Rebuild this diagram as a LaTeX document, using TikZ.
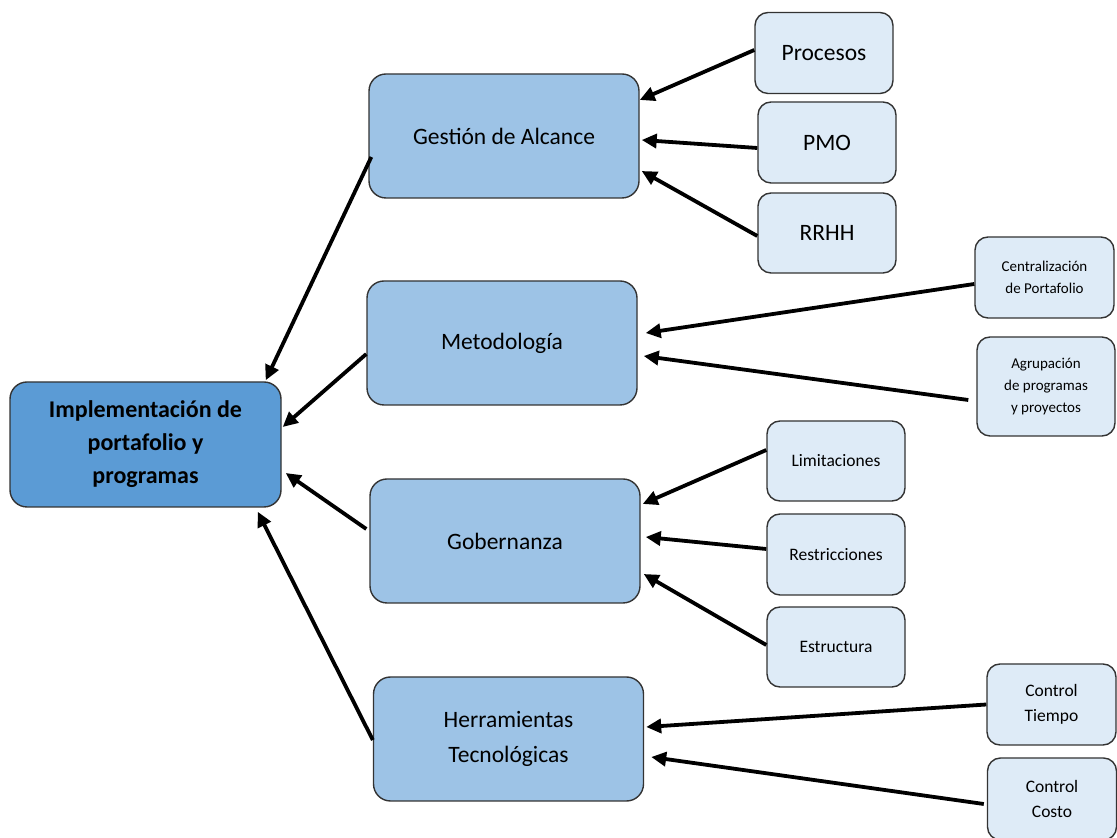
\documentclass[tikz,border=0pt]{standalone}
\usepackage{fontspec}
\setmainfont{Carlito}
\usetikzlibrary{arrows.meta}
\definecolor{rootblue}{HTML}{5B9BD5}
\definecolor{midblue}{HTML}{9DC3E6}
\definecolor{leafblue}{HTML}{DEEBF7}
\definecolor{edgegray}{HTML}{333333}
\begin{document}
\begin{tikzpicture}[x=1pt,y=1pt,
  box/.style={draw=edgegray,line width=1.4pt,rounded corners=17pt,align=center,
    inner sep=0pt,text=black},
  rootbox/.style={box,fill=rootblue,minimum width=271pt,minimum height=125pt,
    font=\fontsize{24}{33}\selectfont\bfseries},
  midbox/.style={box,fill=midblue,minimum width=270pt,minimum height=124pt,
    font=\fontsize{23.5}{35}\selectfont},
  leafbox/.style={box,fill=leafblue,rounded corners=13pt,minimum width=138pt,minimum height=81pt,
    font=\fontsize{23.5}{28}\selectfont},
  smallleaf/.style={leafbox,font=\fontsize{17.5}{25}\selectfont},
  tinyleaf/.style={leafbox,font=\fontsize{15}{22}\selectfont},
  link/.style={line width=3.8pt,-{Triangle[length=15pt,width=14pt]}}
]
\useasboundingbox (0,0) rectangle (1117,838);

% root and second-level topics
\node[rootbox] (main) at (145.5,393.5) {Implementación de\\portafolio y\\programas};
\node[midbox] (gest) at (504,702) {Gestión de Alcance};
\node[midbox] (met) at (502,495) {Metodología};
\node[midbox] (gob) at (505,297) {Gobernanza};
\node[midbox] (herr) at (508.5,99) {Herramientas\\Tecnológicas};

% leaves
\node[leafbox] (proc) at (824,785) {Procesos};
\node[leafbox] (pmo) at (827,695.5) {PMO};
\node[leafbox,minimum height=80pt] (rrhh) at (827,605) {RRHH};
\node[tinyleaf,minimum width=139pt] (cent) at (1044.5,560.5) {Centralización\\de Portafolio};
\node[tinyleaf,minimum height=99pt] (agr) at (1046,451.5) {Agrupación\\de programas\\y proyectos};
\node[smallleaf,minimum height=80pt] (lim) at (836,377) {Limitaciones};
\node[smallleaf] (res) at (836,283.5) {Restricciones};
\node[smallleaf,minimum height=80pt] (est) at (836,191) {Estructura};
\node[smallleaf,minimum width=129pt] (ct) at (1051.5,133.5) {Control\\Tiempo};
\node[smallleaf,minimum width=129pt,minimum height=82pt] (cc) at (1052,39) {Control\\Costo};

% leaves into topics
\draw[link] ([yshift=3pt]proc.west) -- ([yshift=36pt]gest.east);
\draw[link] ([yshift=-5.5pt]pmo.west) -- ([xshift=2pt,yshift=-4pt]gest.east);
\draw[link] ([yshift=-3pt]rrhh.west) -- ([xshift=2pt,yshift=-35pt]gest.east);
\draw[link] ([yshift=-6.5pt]cent.west) -- ([xshift=8pt,yshift=10pt]met.east);
\draw[link] ([xshift=-8pt,yshift=-13.5pt]agr.west) -- ([xshift=6pt,yshift=-13pt]met.east);
\draw[link] ([yshift=11pt]lim.west) -- ([xshift=2pt,yshift=37pt]gob.east);
\draw[link] ([yshift=5.5pt]res.west) -- ([xshift=5pt,yshift=4pt]gob.east);
\draw[link] ([yshift=2pt]est.west) -- ([xshift=3pt,yshift=-33pt]gob.east);
\draw[link] (ct.west) -- ([xshift=2pt,yshift=12pt]herr.east);
\draw[link] ([xshift=-3pt,yshift=-5pt]cc.west) -- ([xshift=7pt,yshift=-18pt]herr.east);

% topics into root
\draw[link] ([xshift=3pt,yshift=-21pt]gest.west) -- ([xshift=-16pt,yshift=1pt]main.north east);
\draw[link] ([yshift=-11pt]met.west) -- ([xshift=1pt,yshift=17.5pt]main.east);
\draw[link] ([xshift=-3pt,yshift=12pt]gob.west) -- ([xshift=4pt,yshift=-28.5pt]main.east);
\draw[link] ([yshift=-1pt]herr.west) -- ([xshift=-24pt,yshift=-4pt]main.south east);
\end{tikzpicture}
\end{document}
